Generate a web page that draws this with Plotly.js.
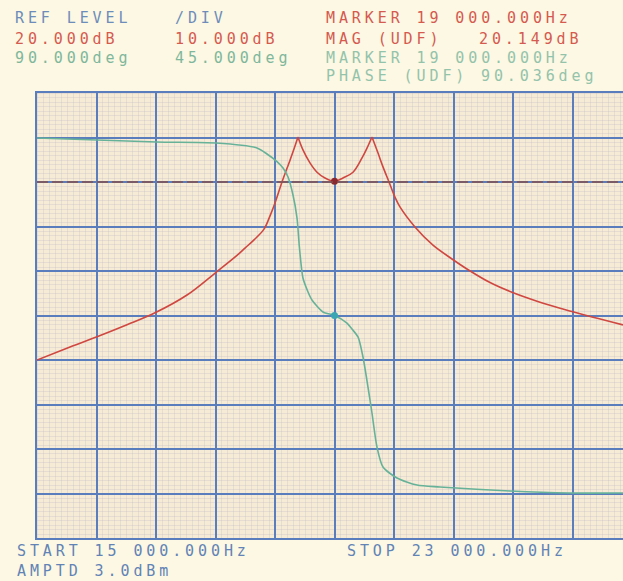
<!DOCTYPE html>
<html>
<head>
<meta charset="utf-8">
<script src="https://cdn.plot.ly/plotly-3.0.1.min.js"></script>
<style>
html,body{margin:0;padding:0;background:#fcf8e3;}
#wrap{position:relative;width:623px;height:581px;}
#paper{position:absolute;left:37px;top:93px;width:586px;height:445px;
  background-color:#f6ebd5;
  background-image:
    repeating-linear-gradient(to right, rgba(185,175,195,0.25) 0px, rgba(185,175,195,0.25) 1px, transparent 1px, transparent 5.95px),
    repeating-linear-gradient(to bottom, rgba(185,175,195,0.25) 0px, rgba(185,175,195,0.25) 1px, transparent 1px, transparent 4.45px);
}
#chart{position:absolute;left:0;top:0;width:623px;height:581px;}
</style>
</head>
<body>
<div id="wrap"><div id="paper"></div><div id="chart"></div></div>
<script>
// Magnitude trace (Hz, dB)
const magFreq = [15000,15444,15807,16210,16587,17017,17407,17689,17800,17918,18052,18133,18200,18294,18402,18455,18509,18576,18670,18765,18872,19000,19114,19249,19370,19437,19504,19585,19652,19733,19813,19880,20082,20324,20580,20781,21091,21360,21763,22193,22476,22879];
const magDb   = [-20.0,-17.1,-14.8,-12.1,-9.4,-5.4,-0.3,3.5,5.2,7.0,9.4,12.4,15.3,20.0,24.9,27.4,30.1,27.2,24.3,22.2,20.9,20.149,20.9,22.2,25.4,27.6,30.1,26.5,23.4,20.0,16.6,14.4,9.9,5.8,2.7,0.45,-2.6,-4.6,-7.0,-9.1,-10.4,-12.1];
// Phase trace (Hz, deg)
const phaseFreq = [15000,15807,16613,17407,17958,18092,18227,18308,18375,18442,18496,18529,18576,18644,18697,18845,19000,19168,19235,19316,19383,19450,19504,19571,19652,19840,20109,20418,21360,22153,22879];
const phaseDeg  = [269.5,267.5,265.4,264.4,259.4,253.3,245.7,239.2,230.1,211.9,188.6,158.3,127.9,113.8,105.7,93.5,90.036,82.4,76.3,68.3,48.0,17.7,-8.6,-43.0,-63.2,-74.3,-81.4,-83.4,-87.5,-89.5,-89.5];
// Marker and settings
const markerFreq = [19000];
const markerMag = [20.149];
const markerPhase = [90.036];
const peakFreqs = [18509, 19504];
const refLevelDb = 20;
const startFreq = 15000, freqPerDiv = 800;
const magTop = 40, magPerDiv = 10, phaseCenter = 90, phasePerDiv = 45;

const headerLines = [
  ["REF LEVEL", 14, 18.5, "#6d8cba"], ["/DIV", 174, 18.5, "#6d8cba"], ["MARKER 19 000.000Hz", 325, 18.5, "#d55a50"],
  ["20.000dB", 14, 39, "#d55a50"], ["10.000dB", 174, 39, "#d55a50"], ["MAG (UDF)", 325, 39, "#d55a50"], ["20.149dB", 478, 39, "#d55a50"],
  ["90.000deg", 14, 57.5, "#7fb79c"], ["45.000deg", 174, 57.5, "#7fb79c"], ["MARKER 19 000.000Hz", 325, 57.5, "#94c3ab"],
  ["PHASE (UDF)", 325, 76, "#94c3ab"], ["90.036deg", 480, 76, "#94c3ab"],
  ["START 15 000.000Hz", 16, 551, "#6283b6"], ["STOP 23 000.000Hz", 346, 551, "#6283b6"],
  ["AMPTD 3.0dBm", 16, 571, "#6283b6"]
];

const L = 37, T = 93, W = 586, H = 445;
const pxPerDiv = 59.5;
const xEnd = startFreq + (W / pxPerDiv) * freqPerDiv;

// split magnitude at the resonance cusps so the spline keeps them sharp
const cuts = [0, ...peakFreqs.map(f => magFreq.indexOf(f)), magFreq.length - 1];
const traces = [];
for (let i = 0; i < cuts.length - 1; i++) {
  traces.push({x: magFreq.slice(cuts[i], cuts[i + 1] + 1), y: magDb.slice(cuts[i], cuts[i + 1] + 1),
    type: 'scatter', mode: 'lines', line: {color: '#cf4740', width: 1.6, shape: 'spline', smoothing: 1}, yaxis: 'y'});
}
traces.push({x: phaseFreq, y: phaseDeg, type: 'scatter', mode: 'lines', line: {color: '#66b299', width: 1.6, shape: 'spline', smoothing: 0.7}, yaxis: 'y2'});
traces.push({x: markerFreq, y: markerMag, type: 'scatter', mode: 'markers', marker: {color: '#8a2a30', size: 7}, yaxis: 'y'});
traces.push({x: markerFreq, y: markerPhase, type: 'scatter', mode: 'markers', marker: {color: '#3aa6b4', size: 7}, yaxis: 'y2'});

const annotations = headerLines.map(([t, px, py, c]) => ({
  text: '<span style="letter-spacing:3.9px">' + t + '</span>',
  xref: 'paper', yref: 'paper',
  x: (px - L) / W, y: (T + H - py) / H,
  xanchor: 'left', yanchor: 'middle', showarrow: false,
  borderpad: 0,
  font: {family: 'DejaVu Sans Mono', size: 15, color: c}
}));

const gridBlue = '#5a7dbd';
const layout = {
  width: 623, height: 581,
  margin: {l: L, r: 0, t: T, b: 581 - T - H, pad: 0},
  paper_bgcolor: 'rgba(0,0,0,0)',
  plot_bgcolor: 'rgba(0,0,0,0)',
  showlegend: false,
  xaxis: {
    range: [startFreq, xEnd], tick0: startFreq, dtick: freqPerDiv,
    showgrid: true, gridcolor: gridBlue, gridwidth: 2,
    zeroline: false, showticklabels: false, ticks: '',
    showline: true, linecolor: gridBlue, linewidth: 2, mirror: true
  },
  yaxis: {
    range: [magTop - 10 * magPerDiv, magTop], tick0: 0, dtick: magPerDiv,
    showgrid: true, gridcolor: gridBlue, gridwidth: 2,
    zeroline: false, showticklabels: false, ticks: '',
    showline: true, linecolor: gridBlue, linewidth: 2
  },
  yaxis2: {
    range: [phaseCenter - 5 * phasePerDiv, phaseCenter + 5 * phasePerDiv],
    overlaying: 'y', showgrid: false, zeroline: false, showticklabels: false, ticks: ''
  },
  shapes: [
    {type: 'line', xref: 'paper', x0: 0, x1: 1, yref: 'y', y0: refLevelDb, y1: refLevelDb,
     line: {color: '#86524a', width: 1.6, dash: '11px,4px'}, layer: 'above'}
  ],
  annotations: annotations
};

Plotly.newPlot('chart', traces, layout, {staticPlot: true, displayModeBar: false});
</script>
</body>
</html>
